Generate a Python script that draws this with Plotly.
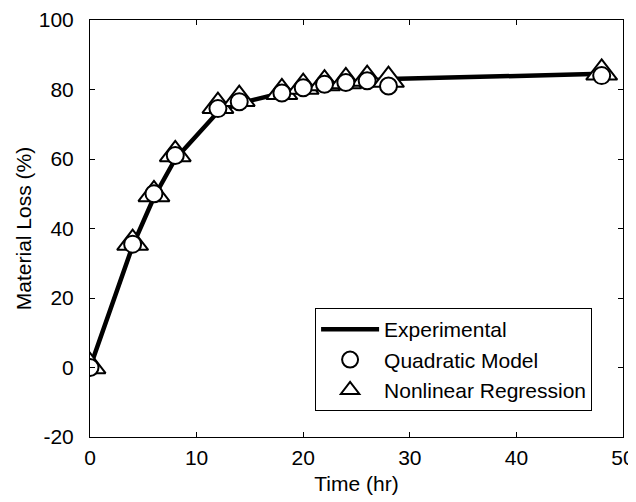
import plotly.graph_objects as go

time_hr = [0, 4, 6, 8, 12, 14, 18, 20, 22, 24, 26, 28, 48]
experimental = [0, 35, 49, 60, 73.5, 76, 79, 80.5, 81.5, 82, 82.5, 83, 84.5]
quadratic = [0, 35.5, 50, 61, 74.5, 76.5, 79, 80.5, 81.5, 82, 82.5, 81, 84]
nonlinear = [0.3, 35.8, 49.8, 61.3, 75.2, 77.2, 79.2, 80.7, 81.7, 82.3, 83, 82.7, 84.8]

x_ticks = [0, 10, 20, 30, 40, 50]
y_ticks = [-20, 0, 20, 40, 60, 80, 100]
y_tick_labels = ["-20", "0", "20", "40", "60", "80", "100"]

FONT = "Liberation Sans, Arial, sans-serif"

fig = go.Figure()
fig.add_trace(go.Scatter(
    x=time_hr, y=experimental, mode="lines", name="Experimental",
    line=dict(color="black", width=4.5), legendrank=1))
fig.add_trace(go.Scatter(
    x=time_hr, y=nonlinear, mode="markers", name="Nonlinear Regression",
    marker=dict(symbol="triangle-up", size=27, color="white",
                line=dict(color="black", width=2)), legendrank=3))
fig.add_trace(go.Scatter(
    x=time_hr, y=quadratic, mode="markers", name="Quadratic Model",
    marker=dict(symbol="circle", size=17, color="white",
                line=dict(color="black", width=2)), legendrank=2))

axis_common = dict(
    showline=True, linecolor="black", linewidth=1, mirror="ticks",
    ticks="inside", ticklen=5, tickcolor="black", tickwidth=1,
    showgrid=False, zeroline=False, automargin=False,
    tickfont=dict(family=FONT, size=21, color="black"),
)

fig.update_xaxes(range=[0, 50], tickvals=x_ticks, ticklabelstandoff=2,
                 title=dict(text="Time (hr)", font=dict(family=FONT, size=21, color="black"), standoff=8),
                 **axis_common)
fig.update_yaxes(range=[-20, 100], tickvals=y_ticks, ticktext=y_tick_labels, ticklabelstandoff=11,
                 title=dict(text="Material Loss (%)", font=dict(family=FONT, size=21, color="black"), standoff=1),
                 **axis_common)

# page body has an 8px margin, so the figure is offset by 8px in both directions
fig.update_layout(
    width=628, height=494,
    margin=dict(l=82, r=13, t=12, b=65),
    plot_bgcolor="white", paper_bgcolor="white",
    font=dict(family=FONT, size=21, color="black"),
    legend=dict(x=0.942, y=0.062, xanchor="right", yanchor="bottom",
                bgcolor="white", bordercolor="black", borderwidth=1,
                font=dict(family=FONT, size=21, color="black"),
                itemwidth=58, tracegroupgap=0),
)

fig.write_html("out.html")
